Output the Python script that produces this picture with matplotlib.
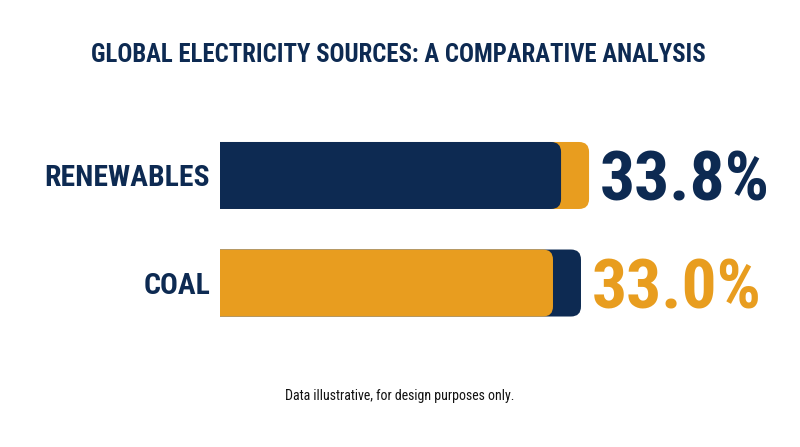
import matplotlib
matplotlib.use("Agg")
import matplotlib.pyplot as plt
import matplotlib.patches as mpatches

# data
categories = ["RENEWABLES", "COAL"]
values = [33.8, 33.0]
value_labels = ["33.8%", "33.0%"]

NAVY = "#0d2a52"
ORANGE = "#e89d1f"
front_colors = [NAVY, ORANGE]
back_colors = [ORANGE, NAVY]
text_colors = [NAVY, ORANGE]

FONT = ["Roboto Condensed", "DejaVu Sans"]
W, H = 800, 447

fig = plt.figure(figsize=(W / 100, H / 100), dpi=100)
fig.patch.set_facecolor("white")

# bar axes: left edge at the bar start (220 px), 100..360 px from top
ax = fig.add_axes([220 / W, (H - 360) / H, 580 / W, 260 / H])
ax.set_xlim(0, 57.48)
ax.set_ylim(-0.716, 1.702)
ax.axis("off")

# pixel scales, to keep rounded ends round
fig.canvas.draw()
px_x = ax.transData.transform((1, 0))[0] - ax.transData.transform((0, 0))[0]
px_y = ax.transData.transform((0, 1))[1] - ax.transData.transform((0, 0))[1]
radius = 10 / px_x
aspect = (10 / px_y) / radius
extra = 28 / px_x
bar_h = 67 / px_y

ypos = [1, 0]
for y, v, fc, bc, lab, vlab, tc in zip(ypos, values, front_colors, back_colors,
                                       categories, value_labels, text_colors):
    # back (offset) bar, then the value bar on top; left rounding is clipped
    for length, col in ((v + extra, bc), (v, fc)):
        box = mpatches.FancyBboxPatch(
            (-2 * radius, y - bar_h / 2), length + 2 * radius, bar_h,
            boxstyle=f"round,pad=0,rounding_size={radius}",
            mutation_aspect=aspect, fc=col, ec="none", lw=0)
        ax.add_patch(box)

    ax.annotate(lab, xy=(0, y), xytext=(-10, -10.5), textcoords="offset pixels",
                ha="right", va="baseline", fontsize=21.3, fontweight="bold",
                color=NAVY, family=FONT, annotation_clip=False)
    ax.annotate(vlab, xy=(v + extra, y), xytext=(11, -25), textcoords="offset pixels",
                ha="left", va="baseline", fontsize=50, fontweight="bold",
                color=tc, family=FONT, annotation_clip=False)

fig.text(0.4975, (H - 62) / H, "GLOBAL ELECTRICITY SOURCES: A COMPARATIVE ANALYSIS",
         ha="center", va="baseline", fontsize=17.8, fontweight="bold",
         color=NAVY, family=FONT)
fig.text(0.5, (H - 400) / H, "Data illustrative, for design purposes only.",
         ha="center", va="baseline", fontsize=10, color="#111111", family=FONT)

fig.savefig("out.png", dpi=100, facecolor="white")
